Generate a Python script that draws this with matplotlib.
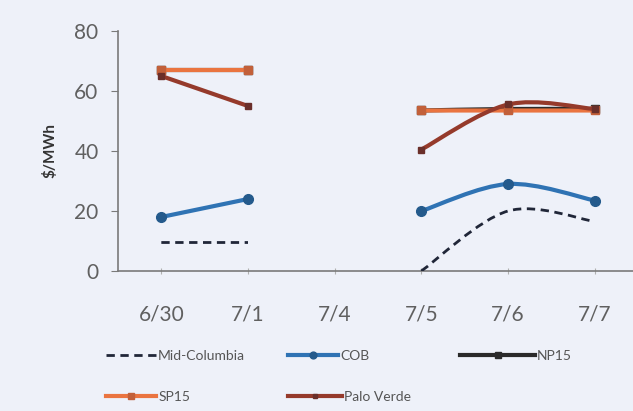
"""Daily power prices by trading hub."""

import matplotlib
matplotlib.use("Agg")
import matplotlib.pyplot as plt
import numpy as np
from matplotlib.lines import Line2D
from matplotlib.patches import PathPatch
from matplotlib.path import Path

days = ["6/30", "7/1", "7/4", "7/5", "7/6", "7/7"]
mid_columbia = [9.5, 9.5, np.nan, 0.0, 20.0, 16.5]
cob = [18.0, 24.0, np.nan, 20.0, 29.0, 23.5]
np15 = [67.0, 67.0, np.nan, 53.5, 54.0, 54.0]
sp15 = [67.0, 67.0, np.nan, 53.5, 53.5, 53.5]
palo_verde = [65.0, 55.0, np.nan, 40.5, 55.5, 54.0]

plt.rcParams["font.family"] = ["Lato", "DejaVu Sans"]
BG = "#eef1f9"


def smooth_line(ax, xs, ys, **kw):
    """Draw each unbroken run of points as a smoothed cubic Bezier curve."""
    xs = np.asarray(xs, float)
    ys = np.asarray(ys, float)
    ok = ~np.isnan(ys)
    runs, cur = [], []
    for i in range(len(xs)):
        if ok[i]:
            cur.append(i)
        elif cur:
            runs.append(cur)
            cur = []
    if cur:
        runs.append(cur)
    for run in runs:
        pts = np.column_stack([xs[run], ys[run]])
        if len(pts) < 2:
            continue
        verts = [pts[0]]
        codes = [Path.MOVETO]
        n = len(pts)
        for i in range(n - 1):
            p0 = pts[max(i - 1, 0)]
            p1, p2 = pts[i], pts[i + 1]
            p3 = pts[min(i + 2, n - 1)]
            c1 = p1 + (p2 - p0) / 6.0
            c2 = p2 - (p3 - p1) / 6.0
            verts += [c1, c2, p2]
            codes += [Path.CURVE4] * 3
        ax.add_patch(PathPatch(Path(verts, codes), fill=False, capstyle="butt",
                               joinstyle="round", **kw))


fig = plt.figure(figsize=(6.33, 4.11), dpi=100)
fig.patch.set_facecolor(BG)
ax = fig.add_axes([118 / 633, 1 - 271 / 411, 520 / 633, 240 / 411])
ax.set_facecolor(BG)

x = np.arange(len(days))

series = [
    ("NP15", np15, dict(color="#2a2a2a", lw=3), dict(marker="s", ms=6, color="#2a2a2a"), 2),
    ("SP15", sp15, dict(color="#ea7440", lw=3), dict(marker="s", ms=6, color="#c2603a"), 3),
    ("Palo Verde", palo_verde, dict(color="#953a2b", lw=3),
     dict(marker="s", ms=5, color="#6a2f2a"), 4),
    ("COB", cob, dict(color="#2f73b4", lw=3), dict(marker="o", ms=7, color="#245a8c"), 4),
    ("Mid-Columbia", mid_columbia, dict(color="#202638", lw=2, linestyle=(0, (3, 2))),
     None, 4),
]

proxies = {}
for name, vals, line_kw, mark_kw, z in series:
    smooth_line(ax, x, vals, zorder=z, **line_kw)
    if mark_kw:
        ax.plot(x, vals, ls="none", marker=mark_kw["marker"], ms=mark_kw["ms"],
                mfc=mark_kw["color"], mec=mark_kw["color"], zorder=z + 0.5)
        proxies[name] = Line2D([], [], color=line_kw["color"], lw=3,
                               marker=mark_kw["marker"], ms=mark_kw["ms"] * 0.7,
                               mfc=mark_kw["color"], mec=mark_kw["color"])
    else:
        proxies[name] = Line2D([], [], color=line_kw["color"], lw=2,
                               ls=line_kw["linestyle"])

ax.set_xlim(-0.5, 5.5)
ax.set_ylim(0, 80)
ax.set_yticks([0, 20, 40, 60, 80])
ax.set_xticks(x)
ax.set_xticklabels(days)

for side in ("top", "right"):
    ax.spines[side].set_visible(False)
for side in ("left", "bottom"):
    ax.spines[side].set_color("#7a7a7a")
    ax.spines[side].set_linewidth(1.2)

ax.tick_params(axis="y", direction="out", length=5, color="#7a7a7a", labelsize=15,
               labelcolor="#606060", pad=9)
ax.tick_params(axis="x", direction="inout", length=4, color="#b0b0b0", labelsize=15,
               labelcolor="#606060", pad=22)

ax.set_ylabel("$/MWh", fontsize=11, fontweight="bold", color="#333333", labelpad=12)

# legend entries sit at fixed spots: (name, left x px, row y px, handle length)
legend_spots = [
    ("Mid-Columbia", 106, 356, 3.6),
    ("COB", 288, 356, 3.6),
    ("NP15", 460, 356, 5.4),
    ("SP15", 106, 397, 3.6),
    ("Palo Verde", 288, 397, 3.9),
]
for name, lx, ly, hl in legend_spots:
    leg = fig.legend([proxies[name]], [name], loc="center left",
                     bbox_to_anchor=(lx / 633, 1 - ly / 411), frameon=False,
                     fontsize=10, handlelength=hl, handletextpad=0.15,
                     borderpad=0, borderaxespad=0, labelcolor="#555555")

fig.savefig("out.png", dpi=100, facecolor=fig.get_facecolor())
